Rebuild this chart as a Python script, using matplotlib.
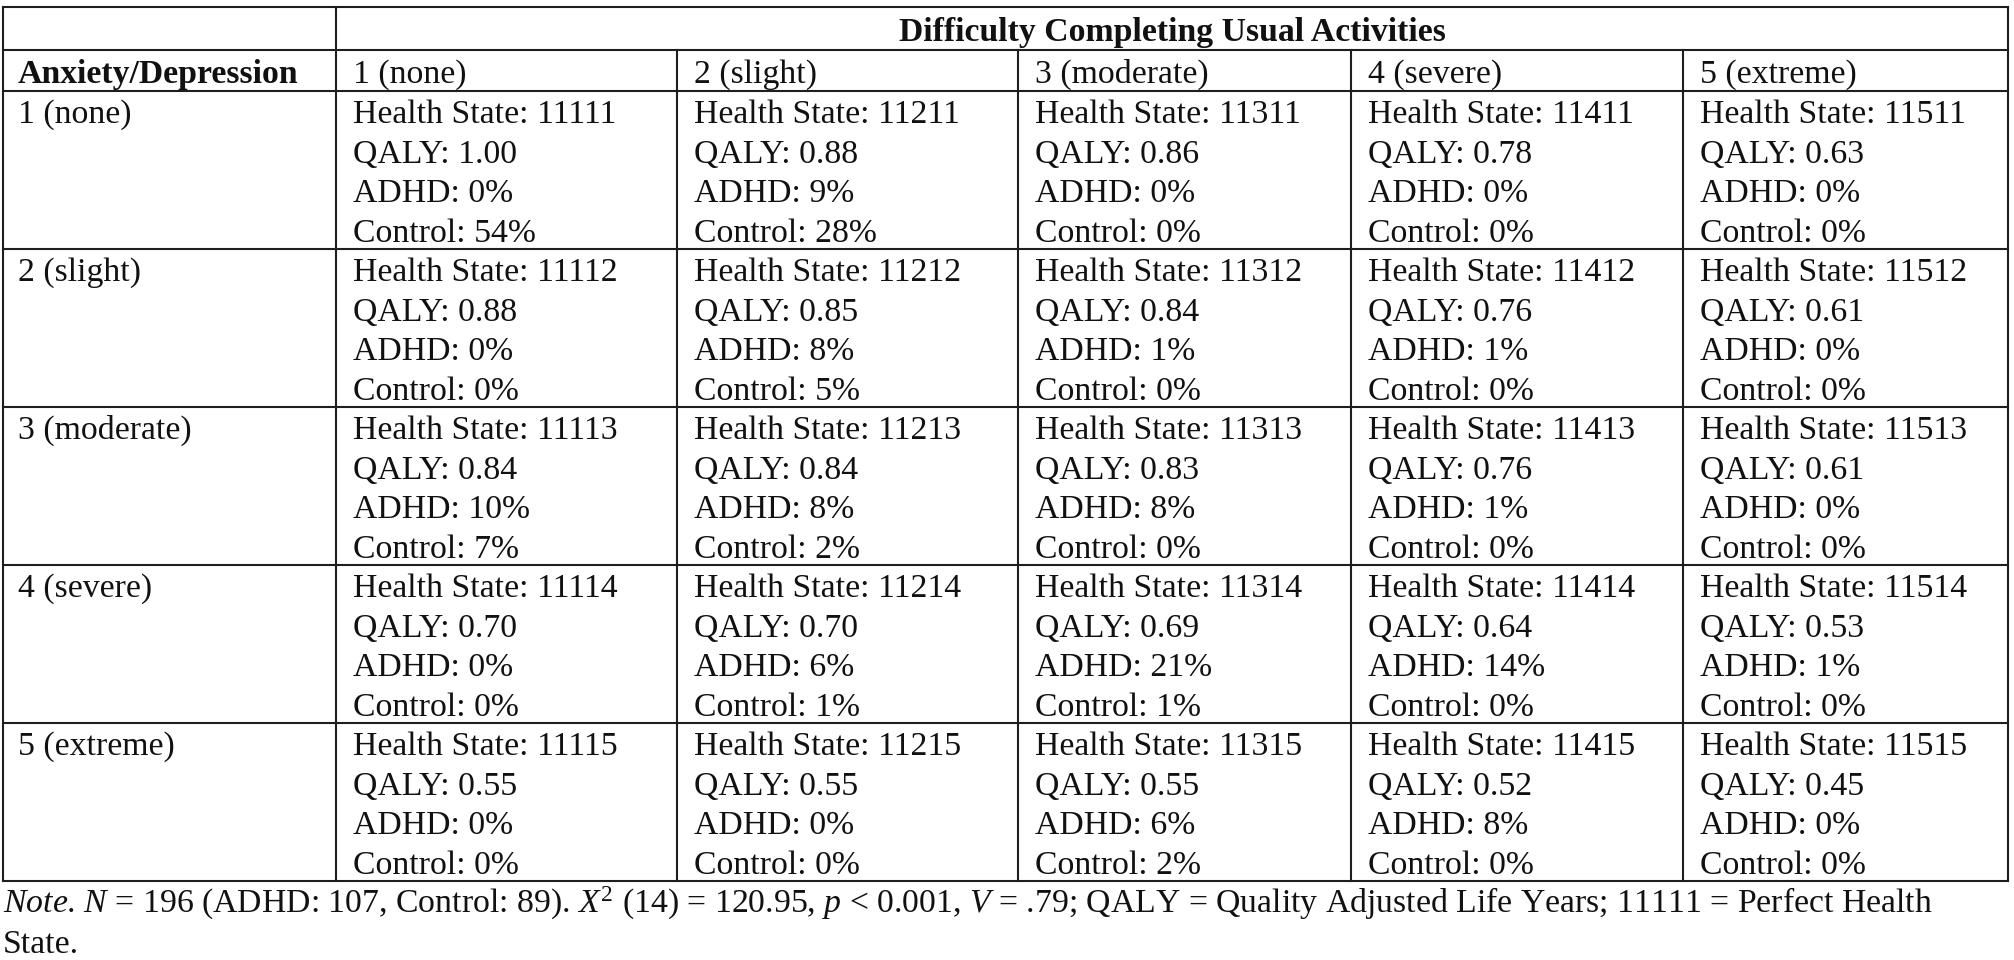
import matplotlib
matplotlib.use("Agg")
import matplotlib.pyplot as plt

plt.rcParams['font.family'] = ['Liberation Serif', 'DejaVu Serif']
plt.rcParams['mathtext.fontset'] = 'custom'
plt.rcParams['mathtext.rm'] = 'Liberation Serif'
plt.rcParams['mathtext.it'] = 'Liberation Serif:italic'
plt.rcParams['mathtext.bf'] = 'Liberation Serif:bold'

# ---------------- data ----------------
col_title = "Difficulty Completing Usual Activities"
row_title = "Anxiety/Depression"
levels = ["1 (none)", "2 (slight)", "3 (moderate)", "4 (severe)", "5 (extreme)"]

# rows = Anxiety/Depression level, columns = Usual Activities level
health_states = [
    ["11111", "11211", "11311", "11411", "11511"],
    ["11112", "11212", "11312", "11412", "11512"],
    ["11113", "11213", "11313", "11413", "11513"],
    ["11114", "11214", "11314", "11414", "11514"],
    ["11115", "11215", "11315", "11415", "11515"],
]
qaly = [
    [1.00, 0.88, 0.86, 0.78, 0.63],
    [0.88, 0.85, 0.84, 0.76, 0.61],
    [0.84, 0.84, 0.83, 0.76, 0.61],
    [0.70, 0.70, 0.69, 0.64, 0.53],
    [0.55, 0.55, 0.55, 0.52, 0.45],
]
adhd_pct = [
    [0, 9, 0, 0, 0],
    [0, 8, 1, 1, 0],
    [10, 8, 8, 1, 0],
    [0, 6, 21, 14, 1],
    [0, 0, 6, 8, 0],
]
control_pct = [
    [54, 28, 0, 0, 0],
    [0, 5, 0, 0, 0],
    [7, 2, 0, 0, 0],
    [0, 1, 1, 0, 0],
    [0, 0, 2, 0, 0],
]
note_line1 = (r"$\it{Note}$. $\it{N}$ = 196 (ADHD: 107, Control: 89). "
              r"$\it{X}^{2}$ (14) = 120.95, $\it{p}$ < 0.001, $\it{V}$ = .79; "
              r"QALY = Quality Adjusted Life Years; 11111 = Perfect Health")
note_line2 = "State."

# ---------------- layout (pixels) ----------------
W, H = 2014, 960
fig = plt.figure(figsize=(W / 100, H / 100), dpi=100)
ax = fig.add_axes([0, 0, 1, 1])
ax.set_xlim(0, W)
ax.set_ylim(H, 0)
ax.axis('off')

xs = [3, 336, 677, 1018, 1351, 1683, 2008]
ys_head = [7, 50, 91]
row_h = 158
ys_body = [91 + i * row_h for i in range(6)]
line_col = '#1e1e1e'
lw = 1.5
fs = 24.3
pad = 17
line_gap = 39.5

# horizontal lines
for y in ys_head + ys_body[1:]:
    ax.plot([xs[0], xs[-1]], [y, y], color=line_col, lw=lw, solid_capstyle='projecting')
# vertical lines
ax.plot([xs[0], xs[0]], [ys_head[0], ys_body[-1]], color=line_col, lw=lw)
ax.plot([xs[1], xs[1]], [ys_head[0], ys_body[-1]], color=line_col, lw=lw)
ax.plot([xs[-1], xs[-1]], [ys_head[0], ys_body[-1]], color=line_col, lw=lw)
for x in xs[2:-1]:
    ax.plot([x, x], [ys_head[1], ys_body[-1]], color=line_col, lw=lw)

# header texts
ax.text((xs[1] + xs[-1]) / 2, 41, col_title, fontsize=fs, fontweight='bold',
        ha='center', va='baseline', color='#111')
ax.text(xs[0] + 15, 83, row_title, fontsize=fs, fontweight='bold',
        ha='left', va='baseline', color='#111')
for j, lab in enumerate(levels):
    ax.text(xs[j + 1] + pad, 83, lab, fontsize=fs, ha='left', va='baseline', color='#111')

# body
for i in range(5):
    top = ys_body[i]
    ax.text(xs[0] + 15, top + 32, levels[i], fontsize=fs, ha='left', va='baseline', color='#111')
    for j in range(5):
        lines = [f"Health State: {health_states[i][j]}",
                 f"QALY: {qaly[i][j]:.2f}",
                 f"ADHD: {adhd_pct[i][j]}%",
                 f"Control: {control_pct[i][j]}%"]
        for k, t in enumerate(lines):
            ax.text(xs[j + 1] + pad, top + 32 + k * line_gap, t, fontsize=fs,
                    ha='left', va='baseline', color='#111')

# note
ax.text(xs[0], 913, note_line1, fontsize=fs, ha='left', va='baseline', color='#111')
ax.text(xs[0], 953, note_line2, fontsize=fs, ha='left', va='baseline', color='#111')

fig.savefig("out.png", dpi=100, facecolor='white')
